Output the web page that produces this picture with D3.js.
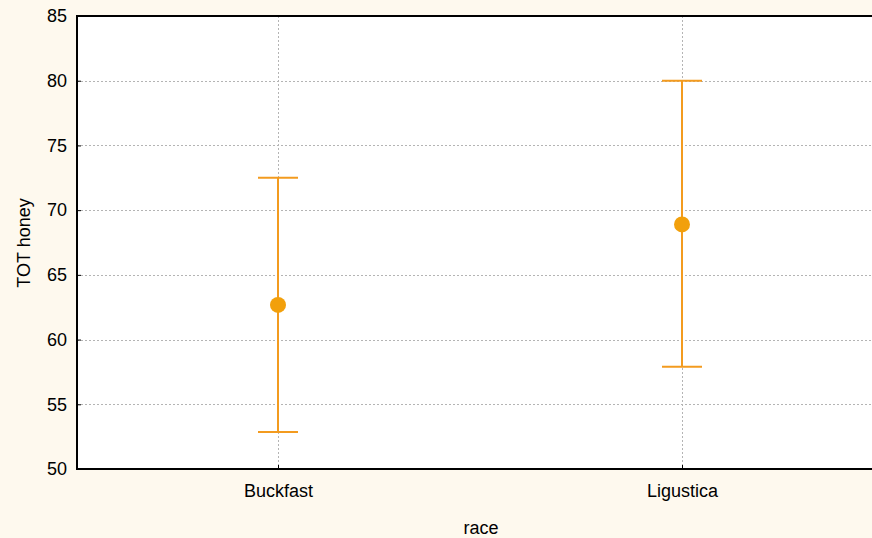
<!DOCTYPE html>
<html>
<head>
<meta charset="utf-8">
<script src="https://cdn.jsdelivr.net/npm/d3@7"></script>
<style>
  html, body { margin: 0; padding: 0; background: #fef9ee; }
  svg { display: block; }
  text { font-family: "Liberation Sans", Arial, sans-serif; fill: #000; }
</style>
</head>
<body>
<svg id="chart" width="872" height="538"></svg>
<script>
// Mean TOT honey per race, with interval bounds
const categories = ["Buckfast", "Ligustica"];
const means = [62.68, 68.9];
const lowers = [52.86, 57.9];
const uppers = [72.5, 80.0];
const yTicks = [50, 55, 60, 65, 70, 75, 80, 85];

const W = 872, H = 538;
const plotLeft = 77, plotTop = 16, plotBottom = 469, plotRight = 884;
const fontSize = 18;

const svg = d3.select("#chart");
svg.append("rect").attr("width", W).attr("height", H).attr("fill", "#fef9ee");

const x = d3.scalePoint().domain(categories).range([plotLeft - 1, plotRight]).padding(0.5);
const y = d3.scaleLinear().domain([50, 85]).range([plotBottom, plotTop]);

// plot area
svg.append("rect")
  .attr("x", plotLeft).attr("y", plotTop)
  .attr("width", plotRight - plotLeft).attr("height", plotBottom - plotTop)
  .attr("fill", "#fff");

// grid lines
const grid = svg.append("g").attr("stroke", "#b4b4b4").attr("stroke-width", 1)
  .attr("stroke-dasharray", "2,2");
grid.selectAll("line.h").data(yTicks.filter(t => t > 50 && t < 85)).join("line")
  .attr("class", "h")
  .attr("x1", plotLeft).attr("x2", plotRight)
  .attr("y1", d => Math.round(y(d)) + 0.5).attr("y2", d => Math.round(y(d)) + 0.5);
grid.selectAll("line.v").data(categories).join("line")
  .attr("class", "v")
  .attr("x1", d => Math.round(x(d)) + 0.5).attr("x2", d => Math.round(x(d)) + 0.5)
  .attr("y1", plotTop).attr("y2", plotBottom);

// axes
const yAxis = d3.axisLeft(y).tickValues(yTicks).tickSize(-4).tickPadding(10);
const gy = svg.append("g").attr("transform", `translate(${plotLeft},0)`).call(yAxis);
gy.select(".domain").remove();
gy.selectAll(".tick line").attr("stroke", "#000");
gy.selectAll("text").attr("font-size", fontSize).style("font-family", "'Liberation Sans', Arial, sans-serif");

const xAxis = d3.axisBottom(x).tickSize(-4).tickPadding(15);
const gx = svg.append("g").attr("transform", `translate(0,${plotBottom})`).call(xAxis);
gx.select(".domain").remove();
gx.selectAll(".tick line").attr("stroke", "#000");
gx.selectAll("text").attr("font-size", fontSize).style("font-family", "'Liberation Sans', Arial, sans-serif");

// frame lines
svg.append("line").attr("x1", plotLeft).attr("x2", plotRight).attr("y1", plotTop).attr("y2", plotTop)
  .attr("stroke", "#000").attr("stroke-width", 2);
svg.append("line").attr("x1", plotLeft).attr("x2", plotRight).attr("y1", plotBottom).attr("y2", plotBottom)
  .attr("stroke", "#000").attr("stroke-width", 2);
svg.append("line").attr("x1", plotLeft).attr("x2", plotLeft).attr("y1", plotTop - 1).attr("y2", plotBottom + 1)
  .attr("stroke", "#000").attr("stroke-width", 2);

// error bars
const bars = svg.append("g").attr("stroke", "#f39b1f").attr("stroke-width", 2).attr("fill", "none");
const capHalf = 20;
categories.forEach((c, i) => {
  const cx = x(c);
  bars.append("line").attr("x1", cx).attr("x2", cx).attr("y1", y(lowers[i])).attr("y2", y(uppers[i]));
  bars.append("line").attr("x1", cx - capHalf).attr("x2", cx + capHalf).attr("y1", y(uppers[i])).attr("y2", y(uppers[i]));
  bars.append("line").attr("x1", cx - capHalf).attr("x2", cx + capHalf).attr("y1", y(lowers[i])).attr("y2", y(lowers[i]));
});

// means
svg.append("g").selectAll("circle").data(categories).join("circle")
  .attr("cx", d => x(d)).attr("cy", (d, i) => y(means[i])).attr("r", 8)
  .attr("fill", "#f2a00c");

// axis titles
svg.append("text").attr("x", 481).attr("y", 534).attr("text-anchor", "middle")
  .attr("font-size", fontSize).text("race");
svg.append("text").attr("transform", "translate(30,243) rotate(-90)")
  .attr("text-anchor", "middle").attr("font-size", fontSize).text("TOT honey");
</script>
</body>
</html>
